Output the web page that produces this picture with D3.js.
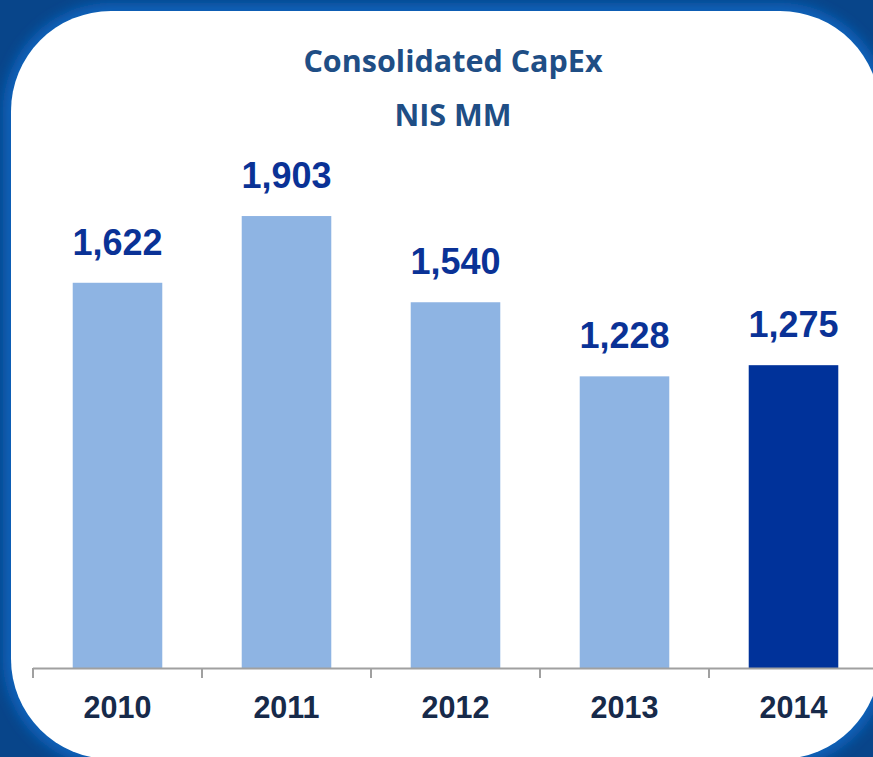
<!DOCTYPE html>
<html><head><meta charset="utf-8">
<script src="https://cdn.jsdelivr.net/npm/d3@7"></script>
<style>html,body{margin:0;padding:0;background:#0a4a90;}svg{display:block;}</style>
</head><body>
<svg id="chart" width="873" height="757"></svg>
<script>
const categories = ["2010","2011","2012","2013","2014"];
const values = [1622,1903,1540,1228,1275];
const valueLabels = ["1,622","1,903","1,540","1,228","1,275"];
const highlight = [false,false,false,false,true];
const titleLines = ["Consolidated CapEx","NIS MM"];

const svg = d3.select("#chart");
const W = 873, H = 757;
const defs = svg.append("defs");
const blur = defs.append("filter").attr("id","glow").attr("x","-10%").attr("y","-10%").attr("width","120%").attr("height","120%");
blur.append("feGaussianBlur").attr("stdDeviation",6);

svg.append("rect").attr("width",W).attr("height",H).attr("fill","#08458a");
svg.append("rect").attr("x",3).attr("y",3).attr("width",885).attr("height",764).attr("rx",108)
  .attr("fill","#1060b8").attr("filter","url(#glow)");
svg.append("rect").attr("x",11).attr("y",11).attr("width",869).attr("height",748).attr("rx",100)
  .attr("fill","#ffffff");

const x = d3.scaleBand().domain(categories).range([33,878]).paddingInner(0.47).paddingOuter(0.235);
const y = d3.scaleLinear().domain([0,2000]).range([668,193]);

// title
svg.append("g").selectAll("text").data(titleLines).join("text")
  .attr("x",453).attr("y",(d,i)=>72+i*54)
  .attr("text-anchor","middle")
  .attr("font-family","'Open Sans', Lato, sans-serif").attr("font-weight","bold")
  .attr("font-size",30.5).attr("fill","#1f4e85").text(d=>d);

// bars
svg.append("g").selectAll("rect").data(categories).join("rect")
  .attr("x",d=>x(d)).attr("width",x.bandwidth())
  .attr("y",(d,i)=>y(values[i])).attr("height",(d,i)=>y(0)-y(values[i]))
  .attr("fill",(d,i)=>highlight[i]?"#00329a":"#8eb4e3");

// value labels
svg.append("g").selectAll("text").data(categories).join("text")
  .attr("x",d=>x(d)+x.bandwidth()/2).attr("y",(d,i)=>y(values[i])-28)
  .attr("text-anchor","middle")
  .attr("font-family","'Liberation Sans', Arial, sans-serif").attr("font-weight","bold")
  .attr("font-size",36).attr("fill","#0a3296").text((d,i)=>valueLabels[i]);

// axis
const xAxisScale = d3.scaleLinear().domain([0,5]).range([33,878]);
const ax = svg.append("g");
ax.append("line").attr("x1",33).attr("x2",W).attr("y1",668.5).attr("y2",668.5)
  .attr("stroke","#a0a0a0").attr("stroke-width",2);
ax.selectAll("line.tick").data(d3.range(0,5)).join("line").attr("class","tick")
  .attr("x1",d=>xAxisScale(d)).attr("x2",d=>xAxisScale(d))
  .attr("y1",668).attr("y2",678).attr("stroke","#a0a0a0").attr("stroke-width",2);
ax.selectAll("text").data(categories).join("text")
  .attr("x",d=>x(d)+x.bandwidth()/2).attr("y",718)
  .attr("text-anchor","middle")
  .attr("font-family","'Liberation Sans', Arial, sans-serif").attr("font-weight","bold")
  .attr("font-size",30.5).attr("fill","#172a4a").text(d=>d);
</script>
</body></html>
